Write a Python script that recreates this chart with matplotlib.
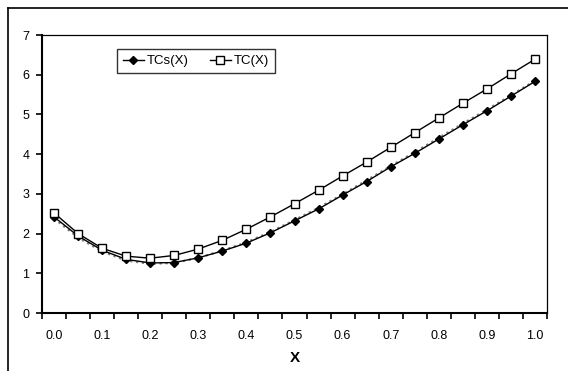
import matplotlib
matplotlib.use("Agg")
import matplotlib.pyplot as plt
from matplotlib.lines import Line2D

plt.rcParams['font.family'] = ['Liberation Sans', 'DejaVu Sans']

x_values = [0.0, 0.05, 0.1, 0.15, 0.2, 0.25, 0.3, 0.35, 0.4, 0.45, 0.5,
            0.55, 0.6, 0.65, 0.7, 0.75, 0.8, 0.85, 0.9, 0.95, 1.0]
tcs = [2.42, 1.94, 1.58, 1.35, 1.26, 1.27, 1.39, 1.56, 1.76, 2.02, 2.32,
       2.62, 2.97, 3.31, 3.68, 4.02, 4.38, 4.74, 5.09, 5.46, 5.83]
tc = [2.52, 2.00, 1.63, 1.43, 1.38, 1.45, 1.61, 1.83, 2.11, 2.42, 2.75,
      3.09, 3.45, 3.80, 4.17, 4.54, 4.91, 5.28, 5.64, 6.02, 6.39]
tcs_approx = [2.38, 1.90, 1.55, 1.32, 1.24, 1.26, 1.39, 1.57, 1.78, 2.04, 2.34,
              2.65, 2.99, 3.34, 3.70, 4.05, 4.41, 4.77, 5.12, 5.48, 5.85]
x_tick_labels = ["0.0", "0.1", "0.2", "0.3", "0.4", "0.5", "0.6", "0.7", "0.8", "0.9", "1.0"]
y_ticks = [0, 1, 2, 3, 4, 5, 6, 7]

W, H = 568, 371
fig = plt.figure(figsize=(W / 100, H / 100), dpi=100)
fig.patch.set_facecolor('white')

# outer frame (top and left lines)
fig.add_artist(Line2D([8 / W, 1.0], [1 - 8 / H, 1 - 8 / H], color='black', lw=1.2, transform=fig.transFigure))
fig.add_artist(Line2D([8 / W, 8 / W], [1 - 8 / H, 0.0], color='black', lw=1.2, transform=fig.transFigure))

left, right, top, bottom = 42, 547, 35, 313
ax = fig.add_axes([left / W, 1 - bottom / H, (right - left) / W, (bottom - top) / H])

pos = list(range(len(x_values)))
ax.plot(pos, tcs_approx, linestyle=':', color='#808080', lw=1.6, zorder=2)
ax.plot(pos, tcs, color='black', lw=1.0, marker='D', markersize=3.8,
        markerfacecolor='black', markeredgecolor='black', label='TCs(X)', zorder=3)
ax.plot(pos, tc, color='black', lw=1.0, marker='s', markersize=5.2,
        markerfacecolor='white', markeredgecolor='black', markeredgewidth=1.0,
        label='TC(X)', zorder=4)

ax.set_xlim(-0.5, len(x_values) - 0.5)
ax.set_ylim(0, 7)
ax.set_yticks(y_ticks)
ax.set_yticklabels([str(v) for v in y_ticks], fontsize=9)

ax.set_xticks([i - 0.5 for i in range(len(x_values) + 1)])
ax.set_xticklabels([])
ax.set_xticks(pos[::2], minor=True)
ax.set_xticklabels(x_tick_labels, minor=True, fontsize=9)
ax.tick_params(axis='x', which='major', direction='out', length=4, width=1.2)
ax.tick_params(axis='x', which='minor', length=0, pad=12)
ax.tick_params(axis='y', direction='out', length=4, width=1.2, pad=5)

for s in ['left', 'bottom']:
    ax.spines[s].set_linewidth(1.5)
for s in ['top', 'right']:
    ax.spines[s].set_linewidth(0.9)

ax.set_xlabel('X', fontsize=11, fontweight='bold', labelpad=7)

leg = ax.legend(loc='upper left', bbox_to_anchor=((117 - left) / (right - left), 1 - (49 - top) / (bottom - top)),
                ncol=2, fontsize=9.5, frameon=True, fancybox=False, shadow=False,
                handlelength=1.6, columnspacing=1.6, handletextpad=0.2,
                borderpad=0.45, borderaxespad=0)
leg.get_frame().set_edgecolor('black')
leg.get_frame().set_linewidth(1.0)

fig.savefig('out.png', dpi=100)
